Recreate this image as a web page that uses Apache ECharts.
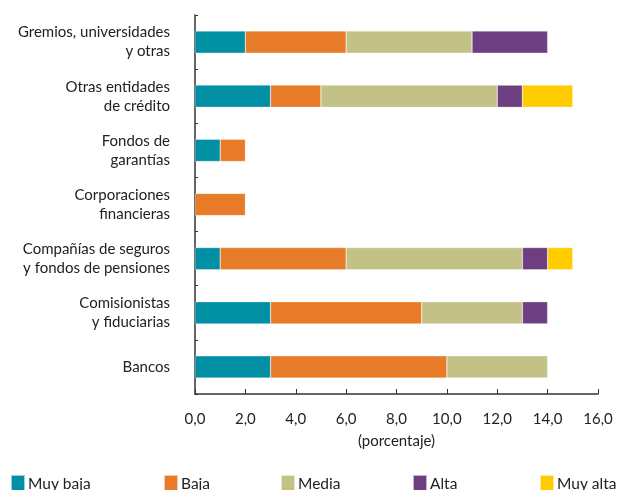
<!DOCTYPE html>
<html>
<head>
<meta charset="utf-8">
<script src="https://cdn.jsdelivr.net/npm/echarts@6/dist/echarts.min.js"></script>
<style>
  html, body { margin: 0; padding: 0; background: #fff; }
  #chart { width: 617px; height: 490px; }
</style>
</head>
<body>
<div id="chart"></div>
<script>
// categorias de arriba hacia abajo
var categories = [
  'Gremios, universidades\ny otras',
  'Otras entidades\nde crédito',
  'Fondos de\ngarantías',
  'Corporaciones\nfinancieras',
  'Compañías de seguros\ny fondos de pensiones',
  'Comisionistas\ny fiduciarias',
  'Bancos'
]
var seriesNames = ['Muy baja', 'Baja', 'Media', 'Alta', 'Muy alta']
var muyBaja = [2, 3, 1, 0, 1, 3, 3]
var baja = [4, 2, 1, 2, 5, 6, 7]
var media = [5, 7, 0, 0, 7, 4, 4]
var alta = [3, 1, 0, 0, 1, 1, 0]
var muyAlta = [0, 2, 0, 0, 1, 0, 0]
var xTicks = [0, 2, 4, 6, 8, 10, 12, 14, 16]

var colors = ['#008fa3', '#e77b27', '#c2c186', '#6e3f80', '#ffcc00']
var values = [muyBaja, baja, media, alta, muyAlta]
var fontFam = 'Lato, "Open Sans", sans-serif'
var legendLeft = [10, 163, 280, 412, 539]

var chart = echarts.init(document.getElementById('chart'))

var legends = seriesNames.map(function (name, i) {
  return {
    data: [name],
    left: legendLeft[i],
    top: 474,
    padding: 0,
    itemWidth: 14,
    itemHeight: 18,
    itemGap: 0,
    icon: 'rect',
    selectedMode: false,
    textStyle: { color: '#222', fontSize: 15.5, fontFamily: fontFam, padding: [9, 0, 0, -2] }
  }
})

var series = seriesNames.map(function (name, i) {
  return {
    name: name,
    type: 'bar',
    stack: 'total',
    barWidth: '41%',
    itemStyle: { color: colors[i], borderColor: 'rgba(255,255,255,0.6)', borderWidth: 0.5 },
    data: values[i].map(function (v) { return v === 0 ? null : v })
  }
})

var option = {
  animation: false,
  color: colors,
  legend: legends,
  grid: { left: 195, right: 19, top: 15, bottom: 96, containLabel: false },
  xAxis: {
    type: 'value',
    min: xTicks[0],
    max: xTicks[xTicks.length - 1],
    interval: 2,
    name: '(porcentaje)',
    nameLocation: 'middle',
    nameGap: 40,
    nameTextStyle: { color: '#222', fontSize: 15, fontFamily: fontFam },
    axisLine: { show: true, lineStyle: { color: '#333', width: 1.5 } },
    axisTick: { show: true, inside: true, length: 5, lineStyle: { color: '#333' } },
    axisLabel: {
      color: '#222',
      fontSize: 15,
      fontFamily: fontFam,
      margin: 18,
      formatter: function (v) { return v.toFixed(1).replace('.', ',') }
    },
    splitLine: { show: false }
  },
  yAxis: {
    type: 'category',
    inverse: true,
    data: categories,
    axisLine: { show: true, lineStyle: { color: '#333', width: 1.5 } },
    axisTick: { show: true, inside: true, length: 3, lineStyle: { color: '#333' } },
    axisLabel: {
      color: '#222',
      fontSize: 15,
      fontFamily: fontFam,
      lineHeight: 19,
      margin: 25,
      align: 'right'
    }
  },
  series: series
}

chart.setOption(option)
window.addEventListener('resize', function () { chart.resize() })
</script>
</body>
</html>
